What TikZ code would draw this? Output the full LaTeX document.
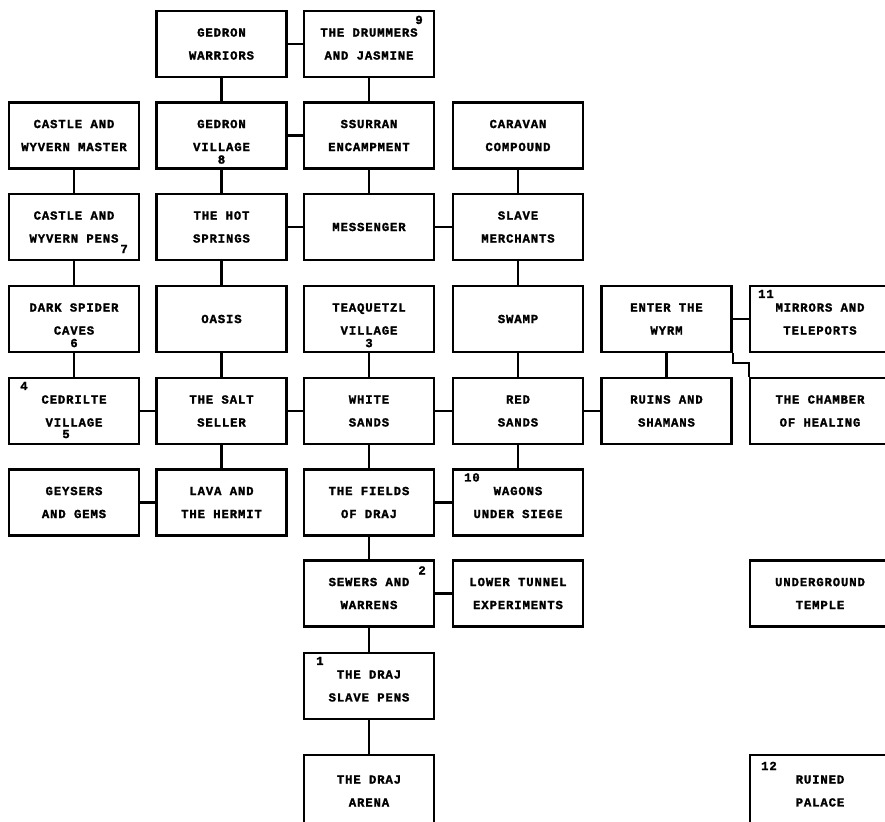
\documentclass[tikz,border=0pt]{standalone}
\usepackage{fontspec}
\newfontfamily\roomfont[LetterSpace=7,FakeBold=1.6]{Liberation Mono Bold}
\usetikzlibrary{calc,positioning}

\tikzset{
room/.style={draw,line width=1.8pt,minimum width=3.9cm,minimum height=1.98cm,align=center,inner sep=1pt,
  font=\roomfont\fontsize{10.5pt}{19.6pt}\selectfont},
wideroom/.style={room,minimum width=4.2cm},
tallroom/.style={room,minimum height=2.16cm},
numtag/.style={inner sep=0pt,font=\roomfont\fontsize{10.5pt}{12pt}\selectfont},
link/.style={line width=1.8pt}
}

\begin{document}
\begin{tikzpicture}[x=0.03cm,y=-0.03cm]
\useasboundingbox[fill=white] (0,0) rectangle (885,822);
% top rows
\node[room] (gw) at (221.5,44) {GEDRON\\WARRIORS};
\node[room] (drum) at (369,44) {THE DRUMMERS\\AND JASMINE};
\node[room] (cwm) at (74,135.5) {CASTLE AND\\WYVERN MASTER};
\node[room] (gv) at (221.5,135.5) {GEDRON\\VILLAGE};
\node[room] (ss) at (369,135.5) {SSURRAN\\ENCAMPMENT};
\node[room] (cc) at (518,135.5) {CARAVAN\\COMPOUND};
\node[room] (cwp) at (74,227) {CASTLE AND\\WYVERN PENS};
\node[room] (hs) at (221.5,227) {THE HOT\\SPRINGS};
\node[room] (msg) at (369,227) {MESSENGER};
\node[room] (sm) at (518,227) {SLAVE\\MERCHANTS};
% middle rows
\node[room] (dsc) at (74,319) {DARK SPIDER\\CAVES};
\node[room] (oas) at (221.5,319) {OASIS};
\node[room] (tv) at (369,319) {TEAQUETZL\\VILLAGE};
\node[room] (swp) at (518,319) {SWAMP};
\node[room] (wyrm) at (666.5,319) {ENTER THE\\WYRM};
\node[wideroom] (mir) at (820,319) {MIRRORS AND\\TELEPORTS};
\node[room] (ced) at (74,411) {CEDRILTE\\VILLAGE};
\node[room] (salt) at (221.5,411) {THE SALT\\SELLER};
\node[room] (ws) at (369,411) {WHITE\\SANDS};
\node[room] (rs) at (518,411) {RED\\SANDS};
\node[room] (ruins) at (666.5,411) {RUINS AND\\SHAMANS};
\node[wideroom] (chb) at (820,411) {THE CHAMBER\\OF HEALING};
\node[room] (gey) at (74,502.5) {GEYSERS\\AND GEMS};
\node[room] (lava) at (221.5,502.5) {LAVA AND\\THE HERMIT};
\node[room] (fod) at (369,502.5) {THE FIELDS\\OF DRAJ};
\node[room] (wag) at (518,502.5) {WAGONS\\UNDER SIEGE};
% bottom rows
\node[room] (sew) at (369,593.5) {SEWERS AND\\WARRENS};
\node[room] (ltx) at (518,593.5) {LOWER TUNNEL\\EXPERIMENTS};
\node[wideroom] (ut) at (820,593.5) {UNDERGROUND\\TEMPLE};
\node[room] (pens) at (369,686) {THE DRAJ\\SLAVE PENS};
\node[tallroom] (arena) at (369,791) {THE DRAJ\\ARENA};
\node[wideroom,minimum height=2.16cm] (rp) at (820,791) {RUINED\\PALACE};
% numbers
\node[numtag] (n1) at ($(pens.north west)+(17,9)$) {1};
\node[numtag] (n2) at ($(sew.north east)+(-13,11)$) {2};
\node[numtag] (n3) at ($(tv.south)+(0,-10)$) {3};
\node[numtag] (n4) at ($(ced.north west)+(16,9)$) {4};
\node[numtag] (n5) at ($(ced.south)+(-8,-11)$) {5};
\node[numtag] (n6) at ($(dsc.south)+(0,-10)$) {6};
\node[numtag] (n7) at ($(cwp.south east)+(-16,-12)$) {7};
\node[numtag] (n8) at ($(gv.south)+(0,-10)$) {8};
\node[numtag] (n9) at ($(drum.north east)+(-16,10)$) {9};
\node[numtag] (n10) at ($(wag.north west)+(20,9)$) {10};
\node[numtag] (n11) at ($(mir.north west)+(17,9)$) {11};
\node[numtag] (n12) at ($(rp.north west)+(20,12)$) {12};
\path[link]
(gw) edge (drum)
(gw) edge (gv)
(drum) edge (ss)
(gv) edge (ss)
(cwm) edge (cwp)
(gv) edge (hs)
(ss) edge (msg)
(hs) edge (msg)
(msg) edge (sm)
(cc) edge (sm)
(cwp) edge (dsc)
(hs) edge (oas)
(sm) edge (swp)
(dsc) edge (ced)
(oas) edge (salt)
(tv) edge (ws)
(ced) edge (salt)
(salt) edge (ws)
(ws) edge (rs)
(swp) edge (rs)
(rs) edge (ruins)
(wyrm) edge (ruins)
(wyrm) edge (mir)
(salt) edge (lava)
(gey) edge (lava)
(ws) edge (fod)
(fod) edge (wag)
(rs) edge (wag)
(fod) edge (sew)
(sew) edge (ltx)
(sew) edge (pens)
(pens) edge (arena);
\draw[link] (wyrm.south east) -- ++(0,10) -| (chb.north west);
\end{tikzpicture}
\end{document}
